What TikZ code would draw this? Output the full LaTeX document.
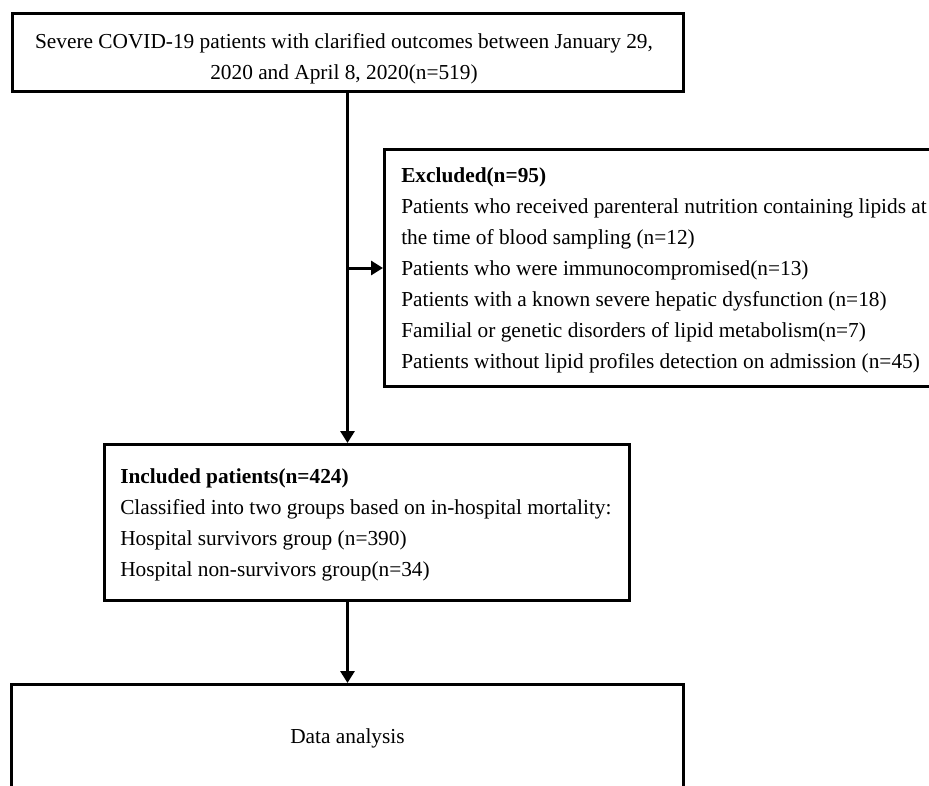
\documentclass[tikz,border=0pt]{standalone}
\usepackage{fontspec}
\setmainfont{Liberation Serif}
\usetikzlibrary{arrows.meta,positioning}

\begin{document}
\begin{tikzpicture}[x=0.75pt,y=-0.75pt,
  box/.style={draw,line width=2.25pt,inner sep=0pt,anchor=north west},
  txt/.style={inner sep=0pt,align=left,anchor=north west,font=\fontsize{16}{23.25}\selectfont},
  arr/.style={line width=2.25pt,-{Triangle[length=9pt,width=10.5pt]}}]
\useasboundingbox (0,0) rectangle (929,786);
\clip (0,0) rectangle (929,786);
% boxes
\node[box,minimum width=503.25pt,minimum height=58.5pt] (start) at (11,12) {};
\node[box,minimum width=462.75pt,minimum height=177.75pt] (excl) at (383,148) {};
\node[box,minimum width=393.75pt,minimum height=117pt] (incl) at (103,443) {};
\node[box,minimum width=504pt,minimum height=82.5pt] (data) at (10,683) {};
% texts
\node[txt,align=center,anchor=north] (startt) at ([shift={(-4,21)}]start.north) {Severe COVID-19 patients with clarified outcomes between January 29,\\2020 and April 8, 2020(n=519)};
\node[txt] (exclt) at ([shift={(18,19)}]excl.north west) {\textbf{Excluded(n=95)}\\
Patients who received parenteral nutrition containing lipids at\\
the time of blood sampling (n=12)\\
Patients who were immunocompromised(n=13)\\
Patients with a known severe hepatic dysfunction (n=18)\\
Familial or genetic disorders of lipid metabolism(n=7)\\
Patients without lipid profiles detection on admission (n=45)};
\node[txt] (inclt) at ([shift={(17,25)}]incl.north west) {\textbf{Included patients(n=424)}\\
Classified into two groups based on in-hospital mortality:\\
Hospital survivors group (n=390)\\
Hospital non-survivors group(n=34)};
\node[txt,anchor=center] (datat) at ([shift={(0,55)}]data.north) {Data analysis};
% arrows
\draw[arr] (start.south -| data.north) -- (incl.north -| data.north);
\draw[arr] (data.north |- excl.west) -- (excl.west);
\draw[arr] (incl.south -| data.north) -- (data.north);
\end{tikzpicture}
\end{document}
